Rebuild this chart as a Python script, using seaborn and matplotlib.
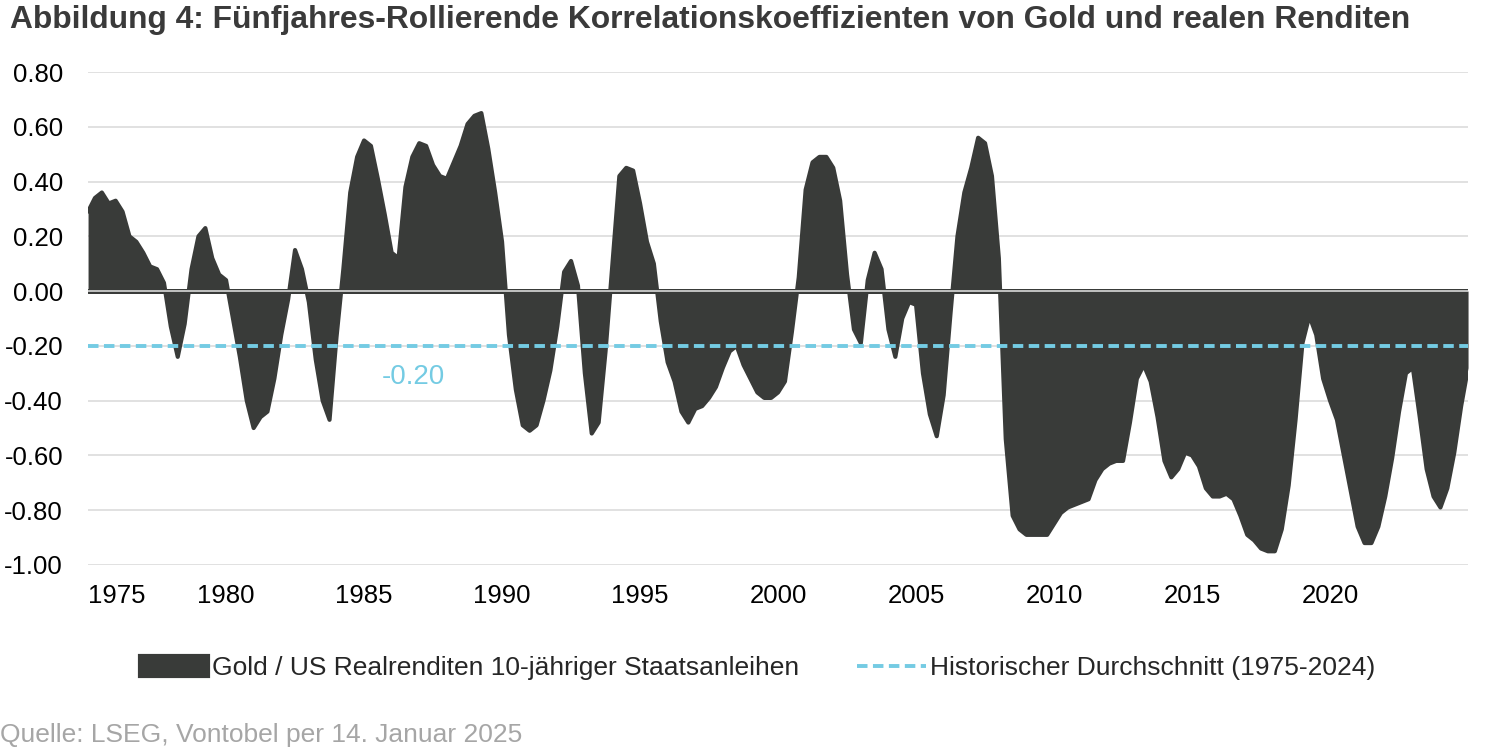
import numpy as np
import matplotlib
matplotlib.use("Agg")
import matplotlib.pyplot as plt
from matplotlib.lines import Line2D
from matplotlib.patches import Patch
import seaborn as sns

# quarterly time axis, 1975 Q1 .. 2025 Q1
years = np.arange(1975, 2025.01, 0.25)

corr = [
    0.29, 0.34, 0.36, 0.32,      # 1975
    0.33, 0.29, 0.20, 0.18,      # 1976
    0.14, 0.09, 0.08, 0.03,      # 1977
    -0.13, -0.24, -0.12, 0.08,   # 1978
    0.20, 0.23, 0.12, 0.06,      # 1979
    0.04, -0.10, -0.24, -0.40,   # 1980
    -0.50, -0.46, -0.44, -0.32,  # 1981
    -0.16, -0.03, 0.15, 0.08,    # 1982
    -0.04, -0.25, -0.40, -0.47,  # 1983
    -0.17, 0.08, 0.36, 0.49,     # 1984
    0.55, 0.53, 0.41, 0.28,      # 1985
    0.14, 0.12, 0.38, 0.49,      # 1986
    0.54, 0.53, 0.46, 0.42,      # 1987
    0.41, 0.47, 0.53, 0.61,      # 1988
    0.64, 0.65, 0.52, 0.36,      # 1989
    0.18, -0.16, -0.36, -0.49,   # 1990
    -0.51, -0.49, -0.40, -0.29,  # 1991
    -0.13, 0.07, 0.11, 0.02,     # 1992
    -0.30, -0.52, -0.48, -0.22,  # 1993
    0.10, 0.42, 0.45, 0.44,      # 1994
    0.32, 0.18, 0.10, -0.11,     # 1995
    -0.26, -0.33, -0.44, -0.48,  # 1996
    -0.43, -0.42, -0.39, -0.35,  # 1997
    -0.28, -0.22, -0.20, -0.27,  # 1998
    -0.32, -0.37, -0.39, -0.39,  # 1999
    -0.37, -0.33, -0.15, 0.05,   # 2000
    0.37, 0.47, 0.49, 0.49,      # 2001
    0.45, 0.33, 0.06, -0.14,     # 2002
    -0.19, 0.04, 0.14, 0.08,     # 2003
    -0.14, -0.24, -0.10, -0.04,  # 2004
    -0.05, -0.30, -0.45, -0.53,  # 2005
    -0.38, -0.08, 0.20, 0.36,    # 2006
    0.45, 0.56, 0.54, 0.42,      # 2007
    0.12, -0.54, -0.82, -0.87,   # 2008
    -0.89, -0.89, -0.89, -0.89,  # 2009
    -0.85, -0.81, -0.79, -0.78,  # 2010
    -0.77, -0.76, -0.69, -0.65,  # 2011
    -0.63, -0.62, -0.62, -0.48,  # 2012
    -0.32, -0.27, -0.33, -0.46,  # 2013
    -0.62, -0.68, -0.65, -0.59,  # 2014
    -0.60, -0.64, -0.72, -0.75,  # 2015
    -0.75, -0.74, -0.76, -0.82,  # 2016
    -0.89, -0.91, -0.94, -0.95,  # 2017
    -0.95, -0.87, -0.71, -0.47,  # 2018
    -0.19, -0.09, -0.16, -0.32,  # 2019
    -0.40, -0.47, -0.60, -0.73,  # 2020
    -0.86, -0.92, -0.92, -0.86,  # 2021
    -0.75, -0.61, -0.44, -0.30,  # 2022
    -0.28, -0.46, -0.65, -0.75,  # 2023
    -0.79, -0.72, -0.59, -0.42,  # 2024
    -0.28,                       # 2025
]
hist_avg = -0.20

x_ticks = [1975, 1980, 1985, 1990, 1995, 2000, 2005, 2010, 2015, 2020]
y_ticks = [0.8, 0.6, 0.4, 0.2, 0.0, -0.2, -0.4, -0.6, -0.8, -1.0]

series_label = "Gold / US Realrenditen 10-jähriger Staatsanleihen"
avg_label = "Historischer Durchschnitt (1975-2024)"
title = "Abbildung 4: Fünfjahres-Rollierende Korrelationskoeffizienten von Gold und realen Renditen"
source = "Quelle: LSEG, Vontobel per 14. Januar 2025"

dark = "#393b39"
blue = "#74cbe3"
grid = "#d9d9d9"

sns.set_theme(style="white")
plt.rcParams["font.family"] = ["Liberation Sans", "DejaVu Sans"]

fig = plt.figure(figsize=(15, 7.5), dpi=100)
ax = fig.add_axes([0.0587, 0.2467, 0.92, 0.6573])

# gridlines
for yv in y_ticks:
    ax.axhline(yv, color=grid, lw=1.1, zorder=0)

# area + outline
ax.fill_between(years, corr, 0, color=dark, lw=0, zorder=2)
sns.lineplot(x=years, y=corr, ax=ax, color=dark, lw=3.0, zorder=3,
             solid_joinstyle="round", solid_capstyle="round")

# zero line
ax.axhline(0, color=dark, lw=3.6, zorder=4)
ax.axhline(0, color="#e6e6e6", lw=1.1, zorder=5)

# historical average
sns.lineplot(x=[years[0], years[-1]], y=[hist_avg, hist_avg], ax=ax,
             color=blue, lw=2.8, dashes=(2.7, 1.4), zorder=6)
ax.text(1986.8, hist_avg - 0.113, f"{hist_avg:.2f}", color=blue,
        fontsize=20, ha="center", va="center")

ax.set_xlim(1975, 2025)
ax.set_ylim(-1.0, 0.8)
ax.set_yticks(y_ticks)
ax.set_yticklabels([f"{v:.2f}" for v in y_ticks])
ax.set_xticks(x_ticks)
ax.set_xticklabels([str(v) for v in x_ticks])
ax.get_xticklabels()[0].set_ha("left")
ax.tick_params(axis="y", labelsize=18.5, pad=18, length=0, colors="black")
ax.tick_params(axis="x", labelsize=18.5, pad=14, length=0, colors="black")
ax.set_xlabel("")
ax.set_ylabel("")
for s in ax.spines.values():
    s.set_visible(False)
if ax.get_legend() is not None:
    ax.get_legend().remove()

handles = [
    Patch(facecolor=dark, edgecolor=dark, linewidth=3, joinstyle="round"),
    Line2D([0], [0], color=blue, lw=2.8, dashes=(2.7, 1.4)),
]
fig.legend(handles, [series_label, avg_label], loc="center",
           bbox_to_anchor=(0.505, 1 - 668 / 750), ncol=2, frameon=False,
           fontsize=19, handlelength=2.6, handleheight=0.8,
           handletextpad=0.15, columnspacing=2.2)

fig.text(0.007, 1 - 20 / 750, title, fontsize=22.9, fontweight="bold",
         color="#3a3a3a", ha="left", va="center")
fig.text(0.0, 1 - 735 / 750, source, fontsize=19, color="#a6a6a6",
         ha="left", va="center")

fig.savefig("out.png", dpi=100)
